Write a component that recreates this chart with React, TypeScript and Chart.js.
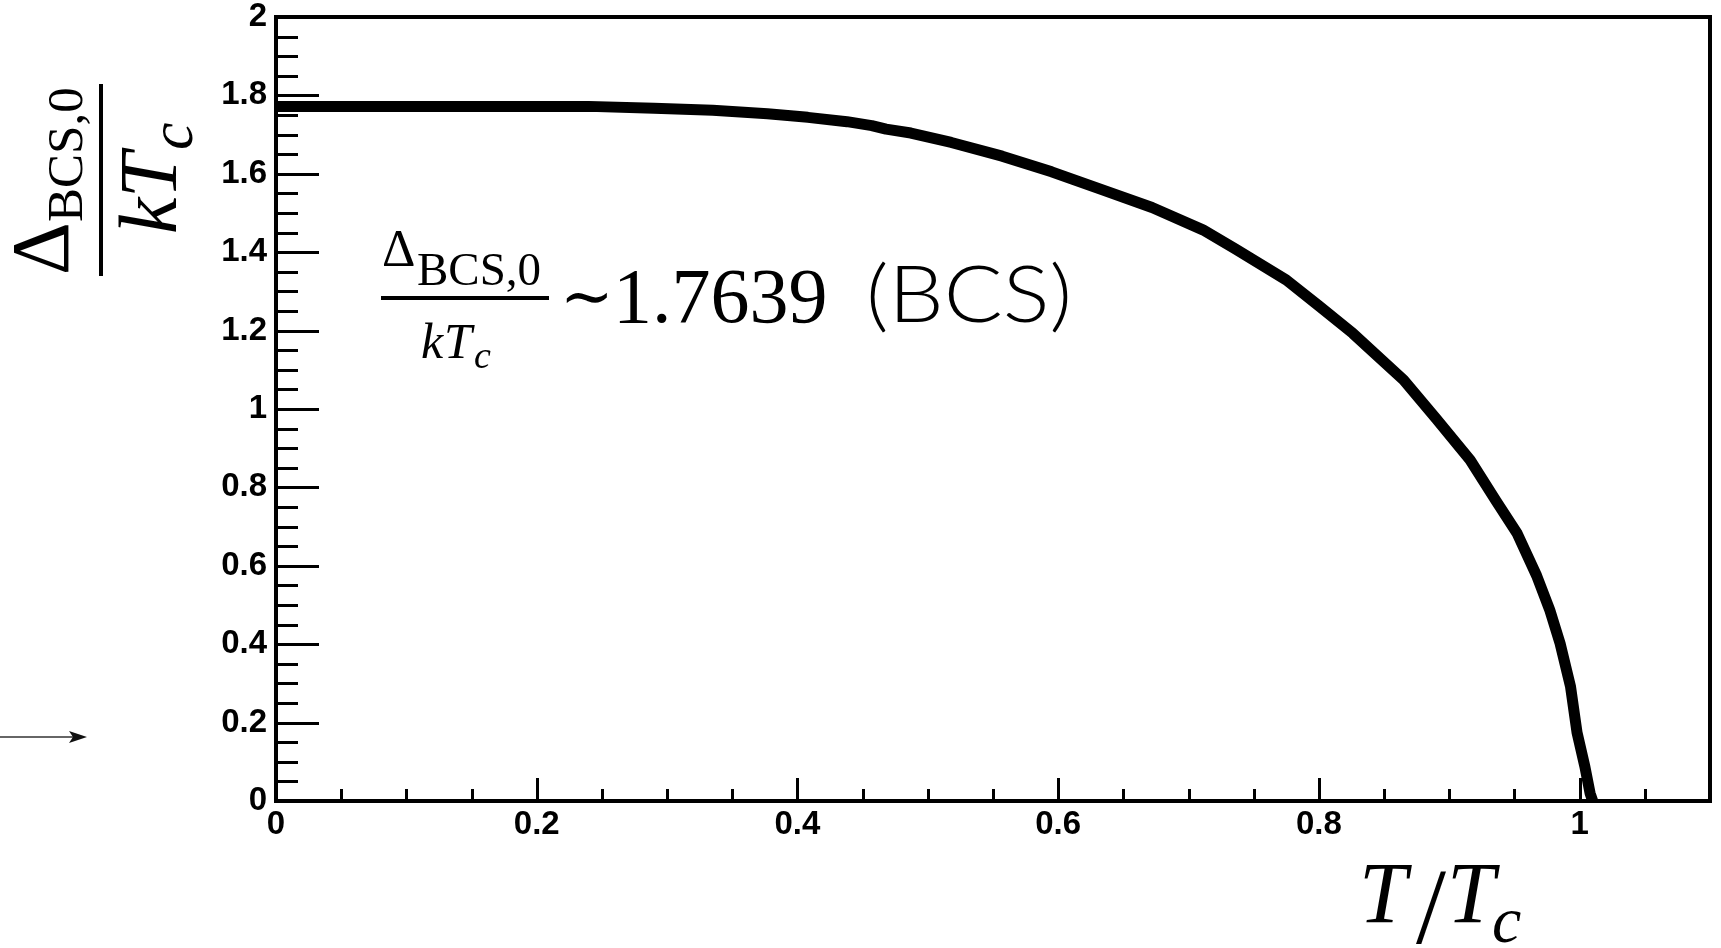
import React, { useEffect, useRef } from 'react';
import { Chart, registerables } from 'chart.js';

Chart.register(...registerables);

// ---- data ----
const T_VALUES = [
  0, 0.24, 0.29, 0.335, 0.377, 0.408, 0.438, 0.457, 0.468, 0.487, 0.518, 0.557,
  0.595, 0.634, 0.672, 0.711, 0.736, 0.775, 0.8, 0.826, 0.865, 0.89, 0.916, 0.936,
  0.952, 0.967, 0.977, 0.985, 0.993, 0.998, 1.004, 1.008, 1.01,
];
const GAP_VALUES = [
  1.772, 1.772, 1.767, 1.762, 1.753, 1.744, 1.733, 1.723, 1.714, 1.704, 1.68, 1.645,
  1.605, 1.559, 1.514, 1.457, 1.408, 1.329, 1.263, 1.193, 1.074, 0.975, 0.87, 0.765,
  0.683, 0.575, 0.488, 0.402, 0.292, 0.175, 0.088, 0.02, 0,
];
const X_TICK_VALUES = [0, 0.2, 0.4, 0.6, 0.8, 1];
const X_TICK_LABELS = ['0', '0.2', '0.4', '0.6', '0.8', '1'];
const Y_TICK_VALUES = [0, 0.2, 0.4, 0.6, 0.8, 1, 1.2, 1.4, 1.6, 1.8, 2];
const Y_TICK_LABELS = ['0', '0.2', '0.4', '0.6', '0.8', '1', '1.2', '1.4', '1.6', '1.8', '2'];
const X_RANGE = [0, 1.1];
const Y_RANGE = [0, 2];
const MINOR_STEP = 0.05;
const ANNOTATION_VALUE = '1.7639';

const W = 1721;
const H = 948;

function labelFor(values: number[], labels: string[], v: number) {
  const i = values.findIndex((t) => Math.abs(t - v) < 1e-9);
  return i >= 0 ? labels[i] : '';
}

const SERIF = '"Liberation Serif", "DejaVu Serif", serif';

function txt(ctx: CanvasRenderingContext2D, s: string, x: number, y: number, font: string) {
  ctx.font = font;
  ctx.fillText(s, x, y);
}

const decor = {
  id: 'decor',
  afterDatasetsDraw(chart: any) {
    const { ctx, chartArea: a } = chart;
    const xs = chart.scales.x;
    const ys = chart.scales.y;
    ctx.save();
    ctx.strokeStyle = '#000';
    ctx.lineCap = 'butt';
    ctx.lineWidth = 3;
    const nY = Math.round((Y_RANGE[1] - Y_RANGE[0]) / MINOR_STEP);
    for (let i = 0; i <= nY; i++) {
      const v = Y_RANGE[0] + i * MINOR_STEP;
      const major = i % 4 === 0;
      const py = Math.round(ys.getPixelForValue(v)) + 0.5;
      ctx.beginPath();
      ctx.moveTo(a.left, py);
      ctx.lineTo(a.left + (major ? 43 : 22), py);
      ctx.stroke();
    }
    const nX = Math.floor((X_RANGE[1] - X_RANGE[0]) / MINOR_STEP + 1e-6);
    for (let i = 0; i <= nX; i++) {
      const v = X_RANGE[0] + i * MINOR_STEP;
      const major = i % 4 === 0;
      const px = Math.round(xs.getPixelForValue(v)) + 0.5;
      ctx.beginPath();
      ctx.moveTo(px, a.bottom);
      ctx.lineTo(px, a.bottom - (major ? 23 : 12));
      ctx.stroke();
    }
    ctx.lineWidth = 4;
    ctx.strokeRect(a.left, a.top, a.right - a.left, a.bottom - a.top);
    ctx.restore();
  },
  afterDraw(chart: any) {
    const ctx: CanvasRenderingContext2D = chart.ctx;
    ctx.save();
    ctx.fillStyle = '#000';
    ctx.textAlign = 'left';
    ctx.textBaseline = 'alphabetic';

    // y axis title (rotated fraction)
    ctx.save();
    ctx.translate(101, 180);
    ctx.rotate(-Math.PI / 2);
    txt(ctx, 'Δ', -95, -33, `82px ${SERIF}`);
    txt(ctx, 'BCS,0', -42, -19, `51px ${SERIF}`);
    ctx.fillRect(-96, -2, 192, 4);
    txt(ctx, 'k', -54, 75, `italic 82px ${SERIF}`);
    txt(ctx, 'T', -18, 75, `italic 82px ${SERIF}`);
    txt(ctx, 'c', 30, 91, `italic 62px ${SERIF}`);
    ctx.restore();

    // x axis title
    txt(ctx, 'T', 1359, 922, `italic 86px ${SERIF}`);
    txt(ctx, '/', 1416, 943, `108px ${SERIF}`);
    txt(ctx, 'T', 1447, 922, `italic 86px ${SERIF}`);
    txt(ctx, 'c', 1492, 942, `italic 66px ${SERIF}`);

    // annotation
    txt(ctx, 'Δ', 382, 266, `52px ${SERIF}`);
    txt(ctx, 'BCS,0', 417, 285, `47px ${SERIF}`);
    ctx.fillRect(381, 296, 168, 4);
    txt(ctx, 'k', 421, 358, `italic 50px ${SERIF}`);
    txt(ctx, 'T', 444, 358, `italic 50px ${SERIF}`);
    txt(ctx, 'c', 474, 368, `italic 38px ${SERIF}`);
    txt(ctx, '∼', 560, 318, `64px ${SERIF}`);
    txt(ctx, ANNOTATION_VALUE, 613, 322, `78px ${SERIF}`);
    ctx.save();
    ctx.translate(866, 322);
    ctx.scale(1.12, 1);
    txt(ctx, '(BCS)', 0, 0, `300 78px Lato, "Open Sans", sans-serif`);
    ctx.restore();

    // small arrow at left edge
    ctx.strokeStyle = '#666';
    ctx.lineWidth = 2;
    ctx.beginPath();
    ctx.moveTo(0, 737);
    ctx.lineTo(76, 737);
    ctx.stroke();
    ctx.fillStyle = '#111';
    ctx.beginPath();
    ctx.moveTo(87, 737);
    ctx.lineTo(69, 731);
    ctx.lineTo(73, 737);
    ctx.lineTo(69, 743);
    ctx.closePath();
    ctx.fill();
    ctx.restore();
  },
};

export default function App() {
  const ref = useRef<HTMLCanvasElement>(null);
  useEffect(() => {
    const tickFont = { family: '"Liberation Sans", Arial, sans-serif', size: 33, weight: 'bold' as const, lineHeight: 1.0 };
    const chart = new Chart(ref.current!, {
      type: 'line',
      data: {
        datasets: [
          {
            data: T_VALUES.map((t, i) => ({ x: t, y: GAP_VALUES[i] })),
            borderColor: '#000',
            borderWidth: 11,
            pointRadius: 0,
            tension: 0,
            fill: false,
            borderJoinStyle: 'round',
            borderCapStyle: 'butt',
          },
        ],
      },
      options: {
        responsive: false,
        animation: false,
        events: [],
        layout: { padding: { top: 17, right: 11, left: 0, bottom: 0 } },
        plugins: { legend: { display: false }, tooltip: { enabled: false }, title: { display: false } },
        scales: {
          x: {
            type: 'linear',
            min: X_RANGE[0],
            max: X_RANGE[1],
            grid: { display: false, drawTicks: false },
            border: { display: false },
            afterBuildTicks: (s: any) => {
              s.ticks = X_TICK_VALUES.map((v) => ({ value: v }));
            },
            afterFit: (s: any) => {
              s.height = H - 801;
              s.paddingLeft = 0;
              s.paddingRight = 0;
              s.paddingTop = 0;
              s.paddingBottom = 0;
            },
            ticks: {
              autoSkip: false,
              maxRotation: 0,
              minRotation: 0,
              padding: 7,
              color: '#000',
              font: tickFont,
              callback: (v: any) => labelFor(X_TICK_VALUES, X_TICK_LABELS, Number(v)),
            },
          },
          y: {
            type: 'linear',
            min: Y_RANGE[0],
            max: Y_RANGE[1],
            grid: { display: false, drawTicks: false },
            border: { display: false },
            afterBuildTicks: (s: any) => {
              s.ticks = Y_TICK_VALUES.map((v) => ({ value: v }));
            },
            afterFit: (s: any) => {
              s.width = 276;
              s.paddingTop = 0;
              s.paddingBottom = 0;
              s.paddingLeft = 0;
              s.paddingRight = 0;
            },
            ticks: {
              autoSkip: false,
              padding: 9,
              color: '#000',
              font: tickFont,
              callback: (v: any) => labelFor(Y_TICK_VALUES, Y_TICK_LABELS, Number(v)),
            },
          },
        },
      },
      plugins: [decor],
    } as any);
    return () => chart.destroy();
  }, []);
  return (
    <div style={{ position: 'absolute', left: 0, top: 0, width: W, height: H, background: '#fff' }}>
      <canvas ref={ref} width={W} height={H} style={{ display: 'block', width: W, height: H }} />
    </div>
  );
}
